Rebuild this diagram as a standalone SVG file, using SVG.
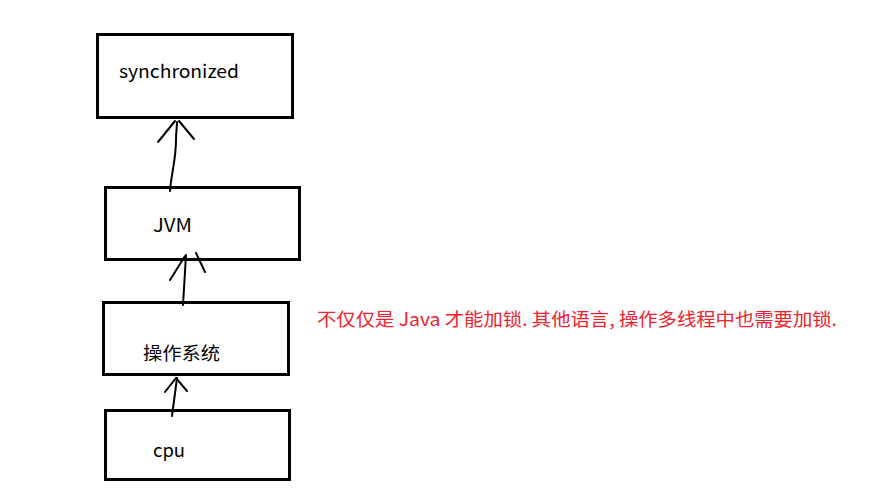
<svg xmlns="http://www.w3.org/2000/svg" width="877" height="493" viewBox="0 0 877 493">
<style>
.box{fill:#fff;stroke:#000;stroke-width:3}
.lbl{font-family:"Noto Sans CJK SC","Open Sans",sans-serif;font-size:18px;fill:#000}
.note{font-family:"Noto Sans CJK SC","Open Sans",sans-serif;font-size:18px;fill:#f0222e}
.arr{fill:none;stroke:#000;stroke-width:2;stroke-linecap:round}
</style>
<rect width="877" height="493" fill="#fff"/>
<g id="synchronized"><rect class="box" x="97.5" y="34.5" width="195" height="83"/><text class="lbl" x="119" y="78" textLength="120" lengthAdjust="spacingAndGlyphs">synchronized</text></g>
<g id="jvm"><rect class="box" x="105.5" y="187.5" width="194" height="72"/><text class="lbl" x="153" y="232" textLength="39" lengthAdjust="spacingAndGlyphs">JVM</text></g>
<g id="os"><rect class="box" x="103.5" y="302.5" width="185" height="72"/><text class="lbl" x="143" y="360" textLength="77" lengthAdjust="spacingAndGlyphs">操作系统</text></g>
<g id="cpu"><rect class="box" x="105.5" y="410.5" width="184" height="69"/><text class="lbl" x="153" y="457" textLength="32" lengthAdjust="spacingAndGlyphs">cpu</text></g>
<g id="connectors">
<path class="arr" d="M170,191 C171,175 176,160 176,140 C176,132 177,127 177,122"/>
<path class="arr" d="M158,142 L175,121 M179,121 L194,139"/>
<path class="arr" d="M183,305 L186,255"/>
<path class="arr" d="M170,280 L185,256 M196,253 L205,272"/>
<path class="arr" d="M172,416 L177,378"/>
<path class="arr" d="M165,392 L176,378 L187,391"/>
</g>
<text class="note" x="317" y="326" textLength="520" lengthAdjust="spacingAndGlyphs">不仅仅是 Java 才能加锁. 其他语言, 操作多线程中也需要加锁.</text>
</svg>
